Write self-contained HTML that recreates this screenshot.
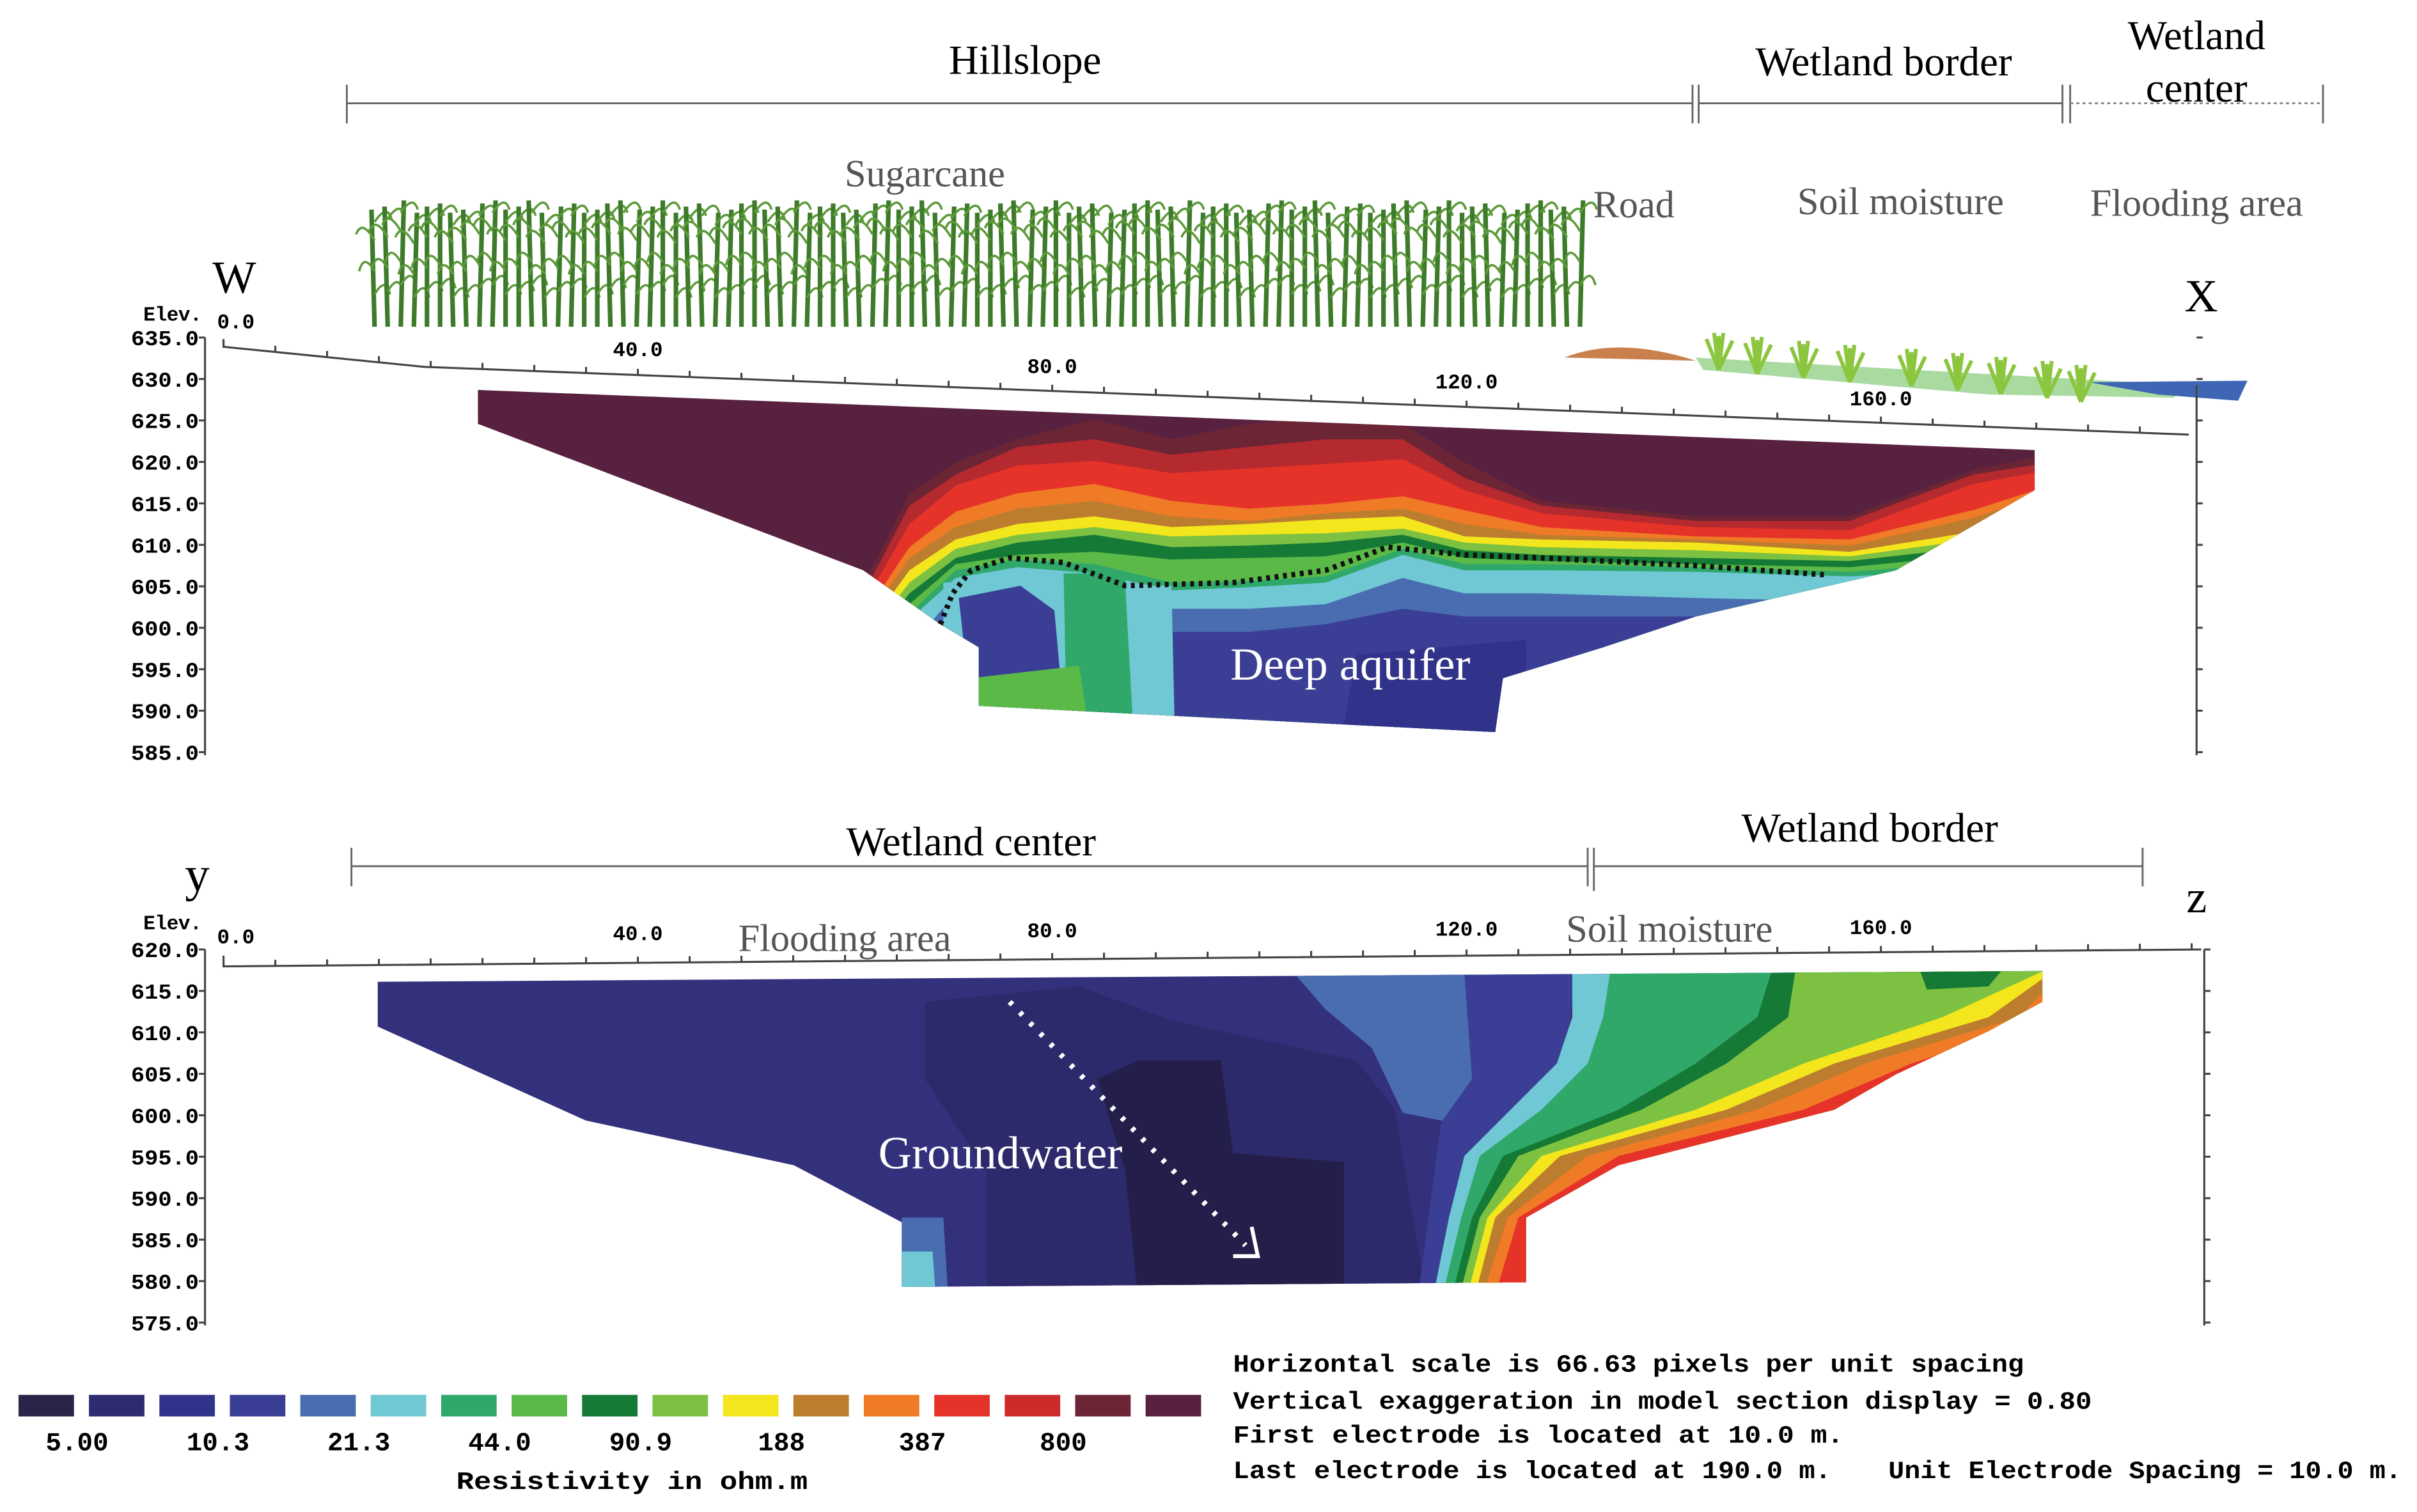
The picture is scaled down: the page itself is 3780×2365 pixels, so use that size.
<!DOCTYPE html>
<html><head><meta charset="utf-8"><style>
html,body{margin:0;padding:0;background:#fff;}
svg{display:block;}
.ser{font-family:"Liberation Serif",serif;}
.mono{font-family:"Liberation Mono",monospace;font-weight:bold;}
</style></head><body>
<svg id="fig" width="3780" height="2365" viewBox="0 0 1568 981" preserveAspectRatio="none" xmlns="http://www.w3.org/2000/svg">
<defs>
<clipPath id="clipTop"><polygon points="310,253 1320,292 1320,318 1230,370 1100,400 1040,420 975,440 970,475 635,458 635,420 610,405 560,370 310,275"/></clipPath>
<clipPath id="clipBot"><polygon points="245,637 1325,630 1325,650 1290,669 1230,697 1190,720 1050,756 990,790 990,832 585,835 585,793 515,756 380,727 245,666"/></clipPath>
</defs>
<g id="top-labels">
<text class="ser" x="665" y="48" font-size="27" text-anchor="middle">Hillslope</text>
<text class="ser" x="1222" y="49" font-size="27" text-anchor="middle">Wetland border</text>
<text class="ser" x="1425" y="32" font-size="27" text-anchor="middle">Wetland</text>
<text class="ser" x="1425" y="66" font-size="27" text-anchor="middle">center</text>
<path d="M225,67 H1098 M225,55 V80 M1098,55 V80 M1102,55 V80 M1102,67 H1338 M1338,55 V80 M1343,55 V80 M1507,55 V80" stroke="#666" stroke-width="1.2" fill="none"/>
<path d="M1343,67 H1507" stroke="#888" stroke-width="1.2" stroke-dasharray="2,2"/>
<text class="ser" x="600" y="121" font-size="25" fill="#555" text-anchor="middle">Sugarcane</text>
<text class="ser" x="1060" y="141" font-size="25" fill="#555" text-anchor="middle">Road</text>
<text class="ser" x="1233" y="139" font-size="25" fill="#555" text-anchor="middle">Soil moisture</text>
<text class="ser" x="1425" y="140" font-size="25" fill="#555" text-anchor="middle">Flooding area</text>
<text class="ser" x="152" y="190" font-size="30" text-anchor="middle">W</text>
<text class="ser" x="1428" y="202" font-size="30" text-anchor="middle">X</text>
</g>
<g id="cane"></g>
<path d="M1015,232 Q1050,218 1100,234 Z" fill="#c9804d"/>
<path d="M1100,232 L1420,250 L1410,258 L1290,256 L1105,240 Z" fill="#a9dba1"/>
<path d="M1355,248 L1458,247 L1452,260 L1400,256 Z" fill="#3e66b5"/>
<g id="grass"></g>
<g id="topPanel"></g>
<g id="botPanel"></g>
<g id="bot-labels">
<text class="ser" x="630" y="555" font-size="27" text-anchor="middle">Wetland center</text>
<text class="ser" x="1213" y="546" font-size="27" text-anchor="middle">Wetland border</text>
<path d="M228,562 H1030 M228,550 V575 M1030,550 V575 M1034,550 V578 M1034,562 H1390 M1390,550 V575" stroke="#666" stroke-width="1.2" fill="none"/>
<text class="ser" x="128" y="578" font-size="32" text-anchor="middle">y</text>
<text class="ser" x="1425" y="592" font-size="30" text-anchor="middle">z</text>
<text class="ser" x="548" y="617" font-size="25" fill="#555" text-anchor="middle">Flooding area</text>
<text class="ser" x="1083" y="611" font-size="25" fill="#555" text-anchor="middle">Soil moisture</text>
</g>
<g id="legend"></g>
<g id="info" class="mono" font-size="16">
<text x="800" y="890" textLength="513" lengthAdjust="spacingAndGlyphs">Horizontal scale is 66.63 pixels per unit spacing</text>
<text x="800" y="914" textLength="557" lengthAdjust="spacingAndGlyphs">Vertical exaggeration in model section display = 0.80</text>
<text x="800" y="936" textLength="396" lengthAdjust="spacingAndGlyphs">First electrode is located at 10.0  m.</text>
<text x="800" y="959" textLength="388" lengthAdjust="spacingAndGlyphs">Last electrode is located at 190.0 m.</text>
<text x="1225" y="959" textLength="333" lengthAdjust="spacingAndGlyphs">Unit Electrode Spacing = 10.0 m.</text>
</g>
</svg>
<script>
const NS='http://www.w3.org/2000/svg';
// legend data
const legendColors=['#2a2448','#2f2b70','#31338a','#3a3f95','#4a6db2','#70c8d5','#2fa86a','#5bb948','#157a35','#7cc142','#f3e61c','#bd7d2e','#ef7b27','#e63329','#cd2b2b','#6c2535','#582140'];
const legendLabels=['5.00','10.3','21.3','44.0','90.9','188','387','800'];
// axis tick data
const topElev=[635,630,625,620,615,610,605,600,595,590,585];
const botElev=[620,615,610,605,600,595,590,585,580,575];
const distTicks=[0,40,80,120,160];
const topDistY=[209,227,238,248,259];
const botDistY=[608,606,604,603,602];
function el(tag,attrs,parent){const e=document.createElementNS(NS,tag);for(const k in attrs)e.setAttribute(k,attrs[k]);parent.appendChild(e);return e;}
function txt(x,y,s,size,anchor,parent,cls){const t=el('text',{x:x,y:y,'font-size':size,'text-anchor':anchor,class:cls||'mono'},parent);t.textContent=s;return t;}
const svg=document.getElementById('fig');
const xOf=d=>145+d*6.72;
const yTop=v=>219+(635-v)*5.38;
const yBot=v=>616+(620-v)*5.38;

// sugarcane
const cane=document.getElementById('cane');
for(let x=243;x<1028;x+=8.5){
  const i=Math.round(x);
  const top=130+(i%5)*2;
  const s=el('line',{x1:x,y1:212,x2:x+((i%3)-1)*2,y2:top,stroke:'#3d7a2a','stroke-width':3},cane);
  
  
  const l=el('path',{d:`M${x},${top+20} q-8,-14 -12,-4 M${x},${top+8} q8,-12 11,-2 M${x},${top+40} q-7,-12 -10,0 M${x},${top+55} q7,-12 10,0`,stroke:'#5d9a3a','stroke-width':1.5,fill:'none'},cane);
  
  
}
const grass=document.getElementById('grass');
[1115,1140,1170,1200,1240,1270,1298,1328,1350].forEach((gx,k)=>{
  const gy=222+k*2.6;
  const g=el('path',{d:`M${gx},${gy+18} l-8,-20 M${gx},${gy+18} l-3,-24 M${gx},${gy+18} l3,-24 M${gx},${gy+18} l9,-19 M${gx},${gy+18} l0,-22`,stroke:'#8cc63f','stroke-width':2.5,fill:'none'},grass);
  
  
});

// ---------- top section ----------
const tp=document.getElementById('topPanel');
const TX=[550,590,620,660,710,760,810,860,910,950,1000,1100,1200,1280,1330];
const topBands=[
 ['#6c2535',[400,320,300,285,272,285,275,270,275,300,325,335,335,305,295]],
 ['#b52a2e',[405,328,308,290,285,295,290,285,285,310,328,338,338,308,300]],
 ['#e63329',[410,340,315,302,299,307,304,301,298,318,333,342,344,314,305]],
 ['#ef7b27',[415,355,332,320,314,325,330,327,322,331,342,348,350,331,315]],
 ['#bd7d2e',[420,362,342,330,325,335,338,333,330,340,347,350,354,336,320]],
 ['#f3e61c',[425,370,350,340,335,342,340,337,335,348,350,352,358,345,325]],
 ['#7cc142',[430,378,356,347,342,348,347,346,343,352,355,357,361,350,330]],
 ['#157a35',[435,385,362,352,347,355,354,352,347,357,360,362,364,355,335]],
 ['#5bb948',[440,392,366,360,358,363,362,361,352,362,364,366,368,360,340]],
 ['#2fa86a',[445,398,370,363,366,378,377,374,356,366,366,368,371,365,345]],
 ['#70c8d5',[450,402,375,368,372,383,381,378,360,370,370,371,374,370,350]],
 ['#4a6db2',[460,420,385,385,390,395,395,392,375,385,385,388,390,385,360]],
 ['#3a3f95',[470,440,400,395,400,410,410,405,395,400,400,400,400,400,380]]
];
const tg=el('g',{'clip-path':'url(#clipTop)'},tp);
el('rect',{x:300,y:240,width:1040,height:250,fill:'#582140'},tg);
topBands.forEach(([c,b])=>{
  let pts=TX.map((x,i)=>x+','+b[i]).join(' ')+' 1400,500 500,500';
  const p=el('polygon',{points:pts,fill:c},tg);
  
  
});
[['#31338a','880,425 990,415 990,480 870,480'],
 ['#70c8d5','612,378 700,376 700,470 612,470'],
 ['#3a3f95','622,388 662,380 684,396 688,440 660,452 628,442'],
 ['#2fa86a','690,372 730,372 735,470 692,470'],
 ['#70c8d5','730,380 760,380 762,470 735,470'],
 ['#5bb948','630,440 700,432 706,470 630,470']].forEach(([c,p])=>{
  const q=el('polygon',{points:p,fill:c},tg);
  
  
});
const dl=el('polyline',{points:'610,405 618,385 630,370 655,362 690,365 730,380 800,378 860,370 900,355 950,360 1000,362 1100,367 1185,373',fill:'none',stroke:'#111','stroke-width':3.5,'stroke-dasharray':'2.5,3'},tp);


const da=txt(876,441,'Deep aquifer',30,'middle',tp,'ser');
da.setAttribute('fill','#fff');


// top axes
const tax=el('g',{stroke:'#444','stroke-width':1.3,fill:'none'},tp);
el('line',{x1:133,y1:219,x2:133,y2:490},tax);
el('line',{x1:1425,y1:250,x2:1425,y2:490},tax);
el('polyline',{points:'145,220 145,225 275,238 1420,282'},tax);
for(let d=0;d<=190;d+=5){const x=xOf(d);if(x>1420)break;const y=x<275?225+(x-145)*0.1:238+(x-275)*0.0384;el('line',{x1:x,y1:y-4,x2:x,y2:y},tax);}
const e1=txt(112,208,'Elev.',13,'middle',tp);e1.setAttribute('textLength','38');
topElev.forEach(v=>{const y=yTop(v);el('line',{x1:129,y1:y,x2:133,y2:y},tax);el('line',{x1:1425,y1:y,x2:1429,y2:y},tax);
 const t=txt(129,y+5,v.toFixed(1),14,'end',tp);t.setAttribute('textLength','44');t.setAttribute('lengthAdjust','spacingAndGlyphs');});
distTicks.forEach((d,i)=>{const t=txt(xOf(d)+(d==0?8:0),topDistY[i]+4,d.toFixed(1),13.5,'middle',tp);});

// ---------- bottom section ----------
const bp=document.getElementById('botPanel');
const bg=el('g',{'clip-path':'url(#clipBot)'},bp);
el('rect',{x:240,y:620,width:1100,height:230,fill:'#33307c'},bg);
[['#2d2a6c','600,650 700,640 760,662 880,688 905,720 925,840 640,840 640,760 600,700'],
 ['#241f4a','712,700 738,688 792,688 800,748 872,754 872,840 738,840 730,760'],
 ['#4a6db2','840,632 955,632 955,700 940,728 910,722 890,680 860,655'],
 ['#3a3f95','950,632 1022,632 1015,690 985,722 940,840 920,840 935,728 955,700'],
 ['#4a6db2','585,790 612,790 615,840 585,840'],
 ['#70c8d5','585,812 605,812 607,840 585,840']].forEach(([c,p])=>{
  const q=el('polygon',{points:p,fill:c},bg);
  
  
});
const BY=[628,660,690,720,750,790,840];
const botBands=[
 ['#70c8d5',[1020,1020,1010,980,950,940,930]],
 ['#2fa86a',[1045,1040,1030,1000,960,948,936]],
 ['#157a35',[1150,1140,1100,1050,975,955,942]],
 ['#7cc142',[1165,1160,1120,1065,985,960,947]],
 ['#f3e61c',[1330,1260,1170,1100,1000,965,952]],
 ['#bd7d2e',[1335,1290,1190,1120,1012,970,957]],
 ['#ef7b27',[1340,1310,1210,1140,1030,978,962]],
 ['#e63329',[1345,1335,1240,1170,1050,985,970]]
];
botBands.forEach(([c,b])=>{
  let pts=BY.map((y,i)=>b[i]+','+y).join(' ')+' 1400,840 1400,628';
  const p=el('polygon',{points:pts,fill:c},bg);
  
  
});
el('polygon',{points:'1245,628 1300,628 1290,640 1250,642',fill:'#157a35'},bg);
const gw=el('line',{x1:655,y1:650,x2:808,y2:808,stroke:'#fff','stroke-width':3.5,'stroke-dasharray':'2.5,7'},bp);


el('path',{d:'M800,815 L816,815 L812,796',stroke:'#fff','stroke-width':2.5,fill:'none'},bp);
const gt=txt(649,758,'Groundwater',30,'middle',bp,'ser');
gt.setAttribute('fill','#fff');


const bax=el('g',{stroke:'#444','stroke-width':1.3,fill:'none'},bp);
el('line',{x1:133,y1:616,x2:133,y2:860},bax);
el('line',{x1:1430,y1:616,x2:1430,y2:860},bax);
el('polyline',{points:'145,620 145,627 1428,616'},bax);
for(let d=0;d<=190;d+=5){const x=xOf(d);if(x>1428)break;const y=627-(x-145)*0.0086;el('line',{x1:x,y1:y-4,x2:x,y2:y},bax);}
const e2=txt(112,603,'Elev.',13,'middle',bp);e2.setAttribute('textLength','38');
botElev.forEach(v=>{const y=yBot(v);el('line',{x1:129,y1:y,x2:133,y2:y},bax);el('line',{x1:1430,y1:y,x2:1434,y2:y},bax);
 const t=txt(129,y+5,v.toFixed(1),14,'end',bp);t.setAttribute('textLength','44');t.setAttribute('lengthAdjust','spacingAndGlyphs');});
distTicks.forEach((d,i)=>{const t=txt(xOf(d)+(d==0?8:0),botDistY[i]+4,d.toFixed(1),13.5,'middle',bp);});

// ---------- legend ----------
const lg=document.getElementById('legend');
legendColors.forEach((c,i)=>{
  const r=el('rect',{x:12+i*45.7,y:905,width:36,height:14,fill:c},lg);
  
  
});
legendLabels.forEach((s,i)=>{
  const t=txt(50+i*91.4,941,s,17,'middle',lg);
  
  
});
const lt=txt(410,966,'Resistivity in ohm.m',16,'middle',lg);
lt.setAttribute('textLength','228');
lt.setAttribute('lengthAdjust','spacingAndGlyphs');


</script>
</body></html>
